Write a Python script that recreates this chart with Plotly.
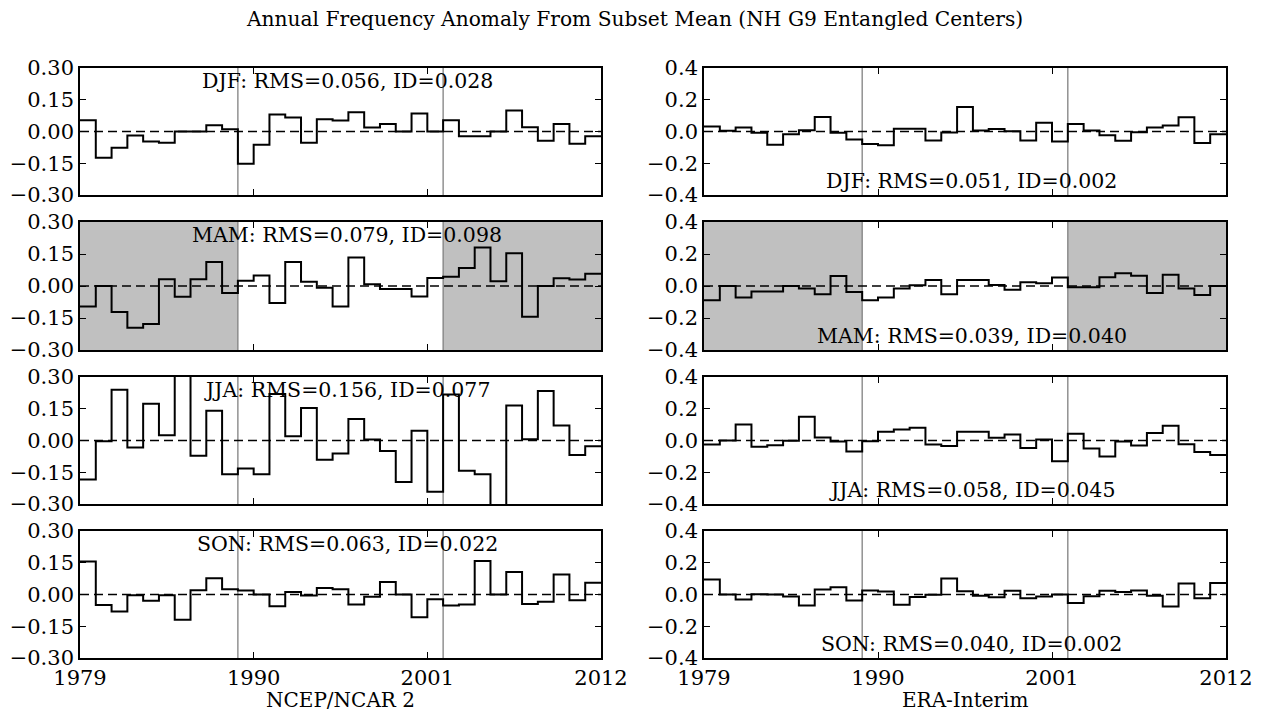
import plotly.graph_objects as go

# Years covered by each seasonal series (one value per year, 1979-2011)
years = list(range(1979, 2012))
year_edges = list(range(1979, 2013))

# NCEP/NCAR 2 seasonal anomalies
ncep_djf = [0.053, -0.124, -0.077, -0.019, -0.047, -0.053, 0.0, 0.0, 0.030, 0.011,
            -0.152, -0.063, 0.080, 0.066, -0.053, 0.058, 0.052, 0.091, 0.019, 0.035,
            0.0, 0.085, 0.0, 0.053, -0.022, -0.022, 0.0, 0.099, 0.020, -0.044,
            0.036, -0.058, -0.022]
ncep_mam = [-0.096, 0.0, -0.122, -0.196, -0.178, 0.032, -0.050, 0.032, 0.112, -0.033,
            0.025, 0.049, -0.080, 0.112, 0.020, -0.008, -0.096, 0.134, 0.008, -0.014,
            -0.014, -0.049, 0.038, 0.043, 0.084, 0.181, 0.022, 0.153, -0.144, 0.0,
            0.036, 0.030, 0.057]
ncep_jja = [-0.184, -0.003, 0.240, -0.033, 0.174, 0.025, 0.360, -0.072, 0.141, -0.160,
            -0.132, -0.159, 0.220, 0.020, 0.154, -0.091, -0.061, 0.102, 0.005, -0.050,
            -0.196, 0.046, -0.242, 0.217, -0.143, -0.159, -0.360, 0.165, 0.006, 0.234,
            0.071, -0.068, -0.027]
ncep_son = [0.156, -0.050, -0.080, -0.003, -0.030, -0.003, -0.119, 0.020, 0.077, 0.025,
            0.019, 0.0, -0.056, 0.012, -0.005, 0.031, 0.025, -0.047, -0.011, 0.059,
            0.0, -0.108, -0.023, -0.052, -0.047, 0.158, 0.0, 0.106, -0.045, -0.034,
            0.094, -0.027, 0.055]

# ERA-Interim seasonal anomalies
era_djf = [0.032, 0.004, 0.025, -0.008, -0.083, -0.017, 0.008, 0.091, -0.008, -0.051,
           -0.078, -0.087, 0.017, 0.017, -0.057, -0.006, 0.155, 0.006, 0.015, 0.002,
           -0.057, 0.055, -0.063, 0.047, 0.006, -0.023, -0.059, -0.004, 0.025, 0.038,
           0.089, -0.072, -0.017]
era_mam = [-0.089, 0.0, -0.072, -0.034, -0.034, 0.0, -0.015, -0.051, 0.062, -0.038,
           -0.089, -0.072, -0.015, 0.004, 0.038, -0.051, 0.038, 0.038, 0.006, -0.023,
           0.023, 0.017, 0.053, -0.008, -0.008, 0.055, 0.079, 0.064, -0.043, 0.070,
           -0.015, -0.057, 0.0]
era_jja = [-0.025, 0.0, 0.100, -0.040, -0.030, -0.002, 0.149, 0.019, -0.006, -0.069,
           -0.004, 0.055, 0.069, 0.080, -0.025, -0.034, 0.055, 0.055, 0.017, 0.038,
           -0.048, 0.006, -0.131, 0.042, -0.050, -0.101, -0.006, -0.032, 0.048, 0.093,
           -0.023, -0.072, -0.091]
era_son = [0.095, 0.0, -0.032, 0.002, 0.0, -0.013, -0.069, 0.032, 0.046, -0.038,
           0.025, 0.019, -0.065, -0.015, -0.002, 0.101, 0.021, -0.008, -0.017, 0.023,
           -0.023, -0.013, 0.0, -0.053, -0.011, 0.023, 0.015, 0.025, -0.008, -0.076,
           0.069, -0.023, 0.072]

ncep_stats = ["DJF: RMS=0.056, ID=0.028", "MAM: RMS=0.079, ID=0.098",
              "JJA: RMS=0.156, ID=0.077", "SON: RMS=0.063, ID=0.022"]
era_stats = ["DJF: RMS=0.051, ID=0.002", "MAM: RMS=0.039, ID=0.040",
             "JJA: RMS=0.058, ID=0.045", "SON: RMS=0.040, ID=0.002"]

x_ticks = [1979, 1990, 2001, 2012]
ncep_yticks = [-0.30, -0.15, 0.0, 0.15, 0.30]
ncep_yticktext = ["\u22120.30", "\u22120.15", "0.00", "0.15", "0.30"]
era_yticks = [-0.4, -0.2, 0.0, 0.2, 0.4]
era_yticktext = ["\u22120.4", "\u22120.2", "0.0", "0.2", "0.4"]

break_years = [1989, 2002]
shade_spans = [(1979, 1989), (2002, 2012)]

title_text = "Annual Frequency Anomaly From Subset Mean (NH G9 Entangled Centers)"
column_titles = ["NCEP/NCAR 2", "ERA-Interim"]

W, H = 1261, 713
FONT = "DejaVu Serif"
TICK_SIZE = 21

# Panel geometry in pixels (left, right) and (top, bottom)
col_px = [(80, 601), (704, 1226)]
row_px = [(68, 195), (222, 350), (377, 504), (531, 658)]

columns = [
    dict(series=[ncep_djf, ncep_mam, ncep_jja, ncep_son], stats=ncep_stats,
         yt=ncep_yticks, ytt=ncep_yticktext, yr=[-0.30, 0.30], text_top=True),
    dict(series=[era_djf, era_mam, era_jja, era_son], stats=era_stats,
         yt=era_yticks, ytt=era_yticktext, yr=[-0.4, 0.4], text_top=False),
]

fig = go.Figure()
shapes = []
annotations = []
layout_axes = {}

for r in range(4):
    for c in range(2):
        n = r * 2 + c + 1
        suffix = "" if n == 1 else str(n)
        xref, yref = f"x{suffix}", f"y{suffix}"
        col = columns[c]
        vals = col["series"][r]
        x0p, x1p = col_px[c]
        t_p, b_p = row_px[r]

        layout_axes[f"xaxis{suffix}"] = dict(
            domain=[x0p / W, x1p / W], range=[1979, 2012], anchor=yref,
            tickvals=x_ticks, showticklabels=(r == 3), automargin=False,
            ticks="inside", ticklen=6, tickwidth=1, tickcolor="black",
            showline=True, linecolor="black", linewidth=1.6, mirror="ticks",
            showgrid=False, zeroline=False,
            tickfont=dict(family=FONT, size=TICK_SIZE, color="black"),
        )
        layout_axes[f"yaxis{suffix}"] = dict(
            domain=[1 - b_p / H, 1 - t_p / H], range=col["yr"], anchor=xref,
            tickvals=col["yt"], ticktext=col["ytt"], automargin=False,
            ticks="inside", ticklen=6, tickwidth=1, tickcolor="black",
            showline=True, linecolor="black", linewidth=1.6, mirror="ticks",
            showgrid=False, zeroline=False,
            tickfont=dict(family=FONT, size=TICK_SIZE, color="black"),
        )

        # shaded early/late periods for spring
        if r == 1:
            for s0, s1 in shade_spans:
                shapes.append(dict(type="rect", xref=xref, yref=f"{yref} domain",
                                   x0=s0, x1=s1, y0=0, y1=1, layer="below",
                                   fillcolor="#c0c0c0", line=dict(width=0)))
        # period boundaries
        for by in break_years:
            shapes.append(dict(type="line", xref=xref, yref=f"{yref} domain",
                               x0=by, x1=by, y0=0, y1=1, layer="below",
                               line=dict(color="#808080", width=1.3)))
        # zero reference
        shapes.append(dict(type="line", xref=f"{xref} domain", yref=yref,
                           x0=0, x1=1, y0=0, y1=0, layer="above",
                           line=dict(color="black", width=1.5, dash="9px,5px")))

        fig.add_trace(go.Scatter(
            x=year_edges, y=vals + [vals[-1]], mode="lines",
            line=dict(shape="hv", color="black", width=2),
            xaxis=xref, yaxis=yref, showlegend=False, hoverinfo="skip",
        ))

        ann_y = 0.90 if col["text_top"] else 0.11
        annotations.append(dict(
            text=col["stats"][r], xref=f"{xref} domain", yref=f"{yref} domain",
            x=0.513, y=ann_y, xanchor="center", yanchor="middle", showarrow=False,
            font=dict(family=FONT, size=20.5, color="black"),
        ))

for c in range(2):
    x0p, x1p = col_px[c]
    annotations.append(dict(
        text=column_titles[c], xref="paper", yref="paper",
        x=(x0p + x1p) / 2 / W, y=1 - 700 / H, xanchor="center", yanchor="middle",
        showarrow=False, font=dict(family=FONT, size=20, color="black"),
    ))

annotations.append(dict(
    text=title_text, xref="paper", yref="paper", x=634 / W, y=1 - 19 / H,
    xanchor="center", yanchor="middle", showarrow=False,
    font=dict(family=FONT, size=20.2, color="black"),
))

fig.update_layout(
    width=W, height=H, margin=dict(l=0, r=0, t=0, b=0),
    paper_bgcolor="white", plot_bgcolor="white",
    shapes=shapes, annotations=annotations, showlegend=False,
    **layout_axes,
)

fig.write_html("out.html")
